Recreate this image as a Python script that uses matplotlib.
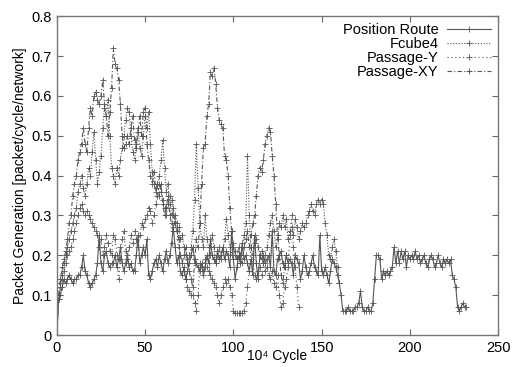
import numpy as np
import matplotlib
matplotlib.use("Agg")
import matplotlib.pyplot as plt

plt.rcParams['font.family'] = ['Liberation Sans', 'DejaVu Sans']

# series values, one sample per 10^4 cycles
position_route = [
    0.00, 0.09, 0.10, 0.12, 0.14, 0.13, 0.14, 0.15, 0.14, 0.13,
    0.14, 0.14, 0.15, 0.15, 0.17, 0.20, 0.16, 0.15, 0.13, 0.12,
    0.13, 0.14, 0.15, 0.18, 0.25, 0.18, 0.16, 0.20, 0.21, 0.18,
    0.17, 0.18, 0.18, 0.20, 0.17, 0.19, 0.22, 0.18, 0.16, 0.18,
    0.20, 0.17, 0.18, 0.16, 0.16, 0.20, 0.25, 0.18, 0.20, 0.22,
    0.20, 0.24, 0.15, 0.14, 0.16, 0.18, 0.19, 0.17, 0.20, 0.18,
    0.16, 0.19, 0.21, 0.18, 0.20, 0.23, 0.27, 0.22, 0.18, 0.20,
    0.16, 0.15, 0.17, 0.14, 0.16, 0.18, 0.20, 0.22, 0.19, 0.18,
    0.17, 0.16, 0.18, 0.15, 0.17, 0.20, 0.18, 0.24, 0.20, 0.19,
    0.18, 0.21, 0.19, 0.20, 0.22, 0.19, 0.21, 0.20, 0.17, 0.26,
    0.19, 0.14, 0.17, 0.20, 0.18, 0.23, 0.19, 0.20, 0.18, 0.16,
    0.19, 0.15, 0.25, 0.18, 0.14, 0.20, 0.19, 0.20, 0.18, 0.19,
    0.20, 0.17, 0.26, 0.16, 0.15, 0.19, 0.20, 0.21, 0.18, 0.17,
    0.20, 0.18, 0.19, 0.18, 0.15, 0.20, 0.19, 0.18, 0.14, 0.16,
    0.20, 0.17, 0.15, 0.16, 0.18, 0.20, 0.17, 0.16, 0.15, 0.25,
    0.16, 0.15, 0.17, 0.15, 0.13, 0.16, 0.19, 0.18, 0.17, 0.15,
    0.13, 0.10, 0.06, 0.06, 0.06, 0.07, 0.06, 0.06, 0.06, 0.07,
    0.07, 0.08, 0.11, 0.07, 0.06, 0.06, 0.07, 0.06, 0.06, 0.08,
    0.14, 0.20, 0.20, 0.19, 0.14, 0.16, 0.15, 0.16, 0.15, 0.16,
    0.17, 0.22, 0.18, 0.21, 0.18, 0.21, 0.19, 0.21, 0.17, 0.20,
    0.19, 0.20, 0.19, 0.21, 0.19, 0.20, 0.18, 0.19, 0.20, 0.18,
    0.17, 0.19, 0.20, 0.19, 0.17, 0.18, 0.20, 0.18, 0.17, 0.19,
    0.18, 0.19, 0.18, 0.19, 0.15, 0.14, 0.12, 0.07, 0.06, 0.07,
    0.08, 0.07, 0.07,
]

fcube4 = [
    0.00, 0.09, 0.12, 0.15, 0.18, 0.20, 0.22, 0.24, 0.26, 0.28,
    0.30, 0.32, 0.36, 0.38, 0.40, 0.37, 0.35, 0.38, 0.42, 0.40,
    0.46, 0.51, 0.44, 0.38, 0.41, 0.45, 0.52, 0.57, 0.55, 0.59,
    0.50, 0.42, 0.40, 0.38, 0.42, 0.40, 0.44, 0.47, 0.50, 0.54,
    0.57, 0.56, 0.50, 0.46, 0.44, 0.48, 0.52, 0.47, 0.45, 0.50,
    0.55, 0.52, 0.56, 0.48, 0.41, 0.38, 0.36, 0.38, 0.40, 0.44,
    0.49, 0.42, 0.36, 0.38, 0.33, 0.30, 0.32, 0.28, 0.26, 0.27,
    0.24, 0.25, 0.22, 0.20, 0.18, 0.20, 0.22, 0.26, 0.34, 0.48,
    0.37, 0.28, 0.24, 0.22, 0.30, 0.24, 0.22, 0.20, 0.25, 0.22,
    0.18, 0.20, 0.22, 0.19, 0.21, 0.24, 0.29, 0.25, 0.22, 0.20,
    0.23, 0.21, 0.19, 0.20, 0.18, 0.22, 0.25, 0.28, 0.45, 0.30,
    0.22, 0.20, 0.23, 0.24, 0.22, 0.20, 0.21, 0.18, 0.20, 0.22,
    0.25, 0.28, 0.30, 0.26, 0.22, 0.24, 0.28, 0.27, 0.30, 0.27,
    0.29, 0.24, 0.26, 0.27, 0.25, 0.29, 0.27, 0.24, 0.26, 0.28,
    0.27, 0.28, 0.30, 0.31, 0.33, 0.31, 0.30, 0.33, 0.34, 0.33,
    0.34, 0.33, 0.28, 0.25, 0.20, 0.19, 0.22, 0.24, 0.21, 0.17,
    0.13,
]

passage_y = [
    0.00, 0.10, 0.13, 0.14, 0.16, 0.18, 0.20, 0.21, 0.22, 0.24,
    0.26, 0.28, 0.30, 0.32, 0.33, 0.31, 0.30, 0.31, 0.30, 0.29,
    0.28, 0.27, 0.26, 0.25, 0.22, 0.24, 0.20, 0.22, 0.25, 0.23,
    0.21, 0.20, 0.25, 0.24, 0.20, 0.14, 0.19, 0.24, 0.26, 0.21,
    0.19, 0.22, 0.25, 0.23, 0.26, 0.24, 0.22, 0.25, 0.28, 0.27,
    0.29, 0.30, 0.32, 0.31, 0.28, 0.30, 0.33, 0.35, 0.38, 0.36,
    0.34, 0.32, 0.30, 0.33, 0.35, 0.34, 0.30, 0.28, 0.26, 0.22,
    0.20, 0.18, 0.16, 0.14, 0.12, 0.11, 0.10, 0.10, 0.08, 0.06,
    0.10, 0.18, 0.17, 0.16, 0.19, 0.17, 0.16, 0.15, 0.14, 0.13,
    0.12, 0.10, 0.08, 0.10, 0.12, 0.14, 0.13, 0.14, 0.12, 0.10,
    0.06, 0.055, 0.055, 0.055, 0.055, 0.055, 0.06, 0.08, 0.12, 0.16,
    0.22, 0.18, 0.15, 0.14, 0.16, 0.17, 0.15, 0.18, 0.16, 0.17,
    0.15, 0.14, 0.16, 0.13, 0.12, 0.15, 0.10, 0.07, 0.08, 0.12,
    0.14, 0.17, 0.25, 0.30, 0.22, 0.17, 0.12, 0.07,
]

passage_xy = [
    0.00, 0.10, 0.14, 0.17, 0.19, 0.21, 0.24, 0.28, 0.30, 0.35,
    0.38, 0.40, 0.44, 0.46, 0.48, 0.52, 0.48, 0.46, 0.52, 0.57,
    0.55, 0.60, 0.61, 0.59, 0.58, 0.60, 0.64, 0.58, 0.55, 0.50,
    0.56, 0.62, 0.72, 0.68, 0.67, 0.64, 0.58, 0.50, 0.47, 0.48,
    0.50, 0.48, 0.52, 0.55, 0.49, 0.47, 0.51, 0.55, 0.50, 0.56,
    0.57, 0.48, 0.44, 0.40, 0.38, 0.41, 0.37, 0.38, 0.35, 0.38,
    0.33, 0.30, 0.32, 0.35, 0.30, 0.28, 0.26, 0.30, 0.28, 0.24,
    0.20, 0.18, 0.20, 0.22, 0.19, 0.16, 0.14, 0.12, 0.18, 0.24,
    0.22, 0.28, 0.38, 0.47, 0.48, 0.55, 0.58, 0.66, 0.65, 0.67,
    0.63, 0.57, 0.54, 0.53, 0.52, 0.45, 0.44, 0.40, 0.32, 0.26,
    0.22, 0.20, 0.19, 0.22, 0.20, 0.18, 0.22, 0.24, 0.26, 0.22,
    0.25, 0.28, 0.30, 0.35, 0.40, 0.42, 0.41, 0.44, 0.48, 0.50,
    0.52, 0.51, 0.45, 0.40, 0.33, 0.25, 0.20, 0.15, 0.13, 0.17,
    0.20,
]

labels = ['Position Route', 'Fcube4', 'Passage-Y', 'Passage-XY']
styles = ['-', (0, (1, 1.5)), (0, (1, 2.5)), (0, (4, 2, 1, 2))]
data = [position_route, fcube4, passage_y, passage_xy]

fig = plt.figure(figsize=(5.12, 3.67), dpi=100)
ax = fig.add_axes([0.111, 0.087, 0.862, 0.869])

for vals, lab, ls in zip(data, labels, styles):
    x = np.arange(len(vals))
    ax.plot(x, vals, linestyle=ls, color='#555555', linewidth=0.8,
            marker='+', markersize=5, markeredgewidth=0.6, label=lab)

ax.set_xlim(0, 250)
ax.set_ylim(0, 0.8)
ax.set_xticks([0, 50, 100, 150, 200, 250])
ax.set_yticks([0, 0.1, 0.2, 0.3, 0.4, 0.5, 0.6, 0.7, 0.8])
ax.set_yticklabels(['0', '0.1', '0.2', '0.3', '0.4', '0.5', '0.6', '0.7', '0.8'])
ax.tick_params(direction='in', top=True, right=True, length=4,
               color='#666666', labelsize=10.5, pad=4)
for sp in ax.spines.values():
    sp.set_color('#777777')
    sp.set_linewidth(1.0)

ax.set_xlabel('10\u2074 Cycle', fontsize=10)
ax.xaxis.set_label_coords(0.5, -0.045)
ax.set_ylabel('Packet Generation [packet/cycle/network]', fontsize=10, labelpad=3)

ax.legend(loc='upper right', frameon=False, markerfirst=False, fontsize=10.5,
          handlelength=3.0, labelspacing=0.0, borderaxespad=0.1, handletextpad=0.6)

fig.savefig('out.png', dpi=100)
